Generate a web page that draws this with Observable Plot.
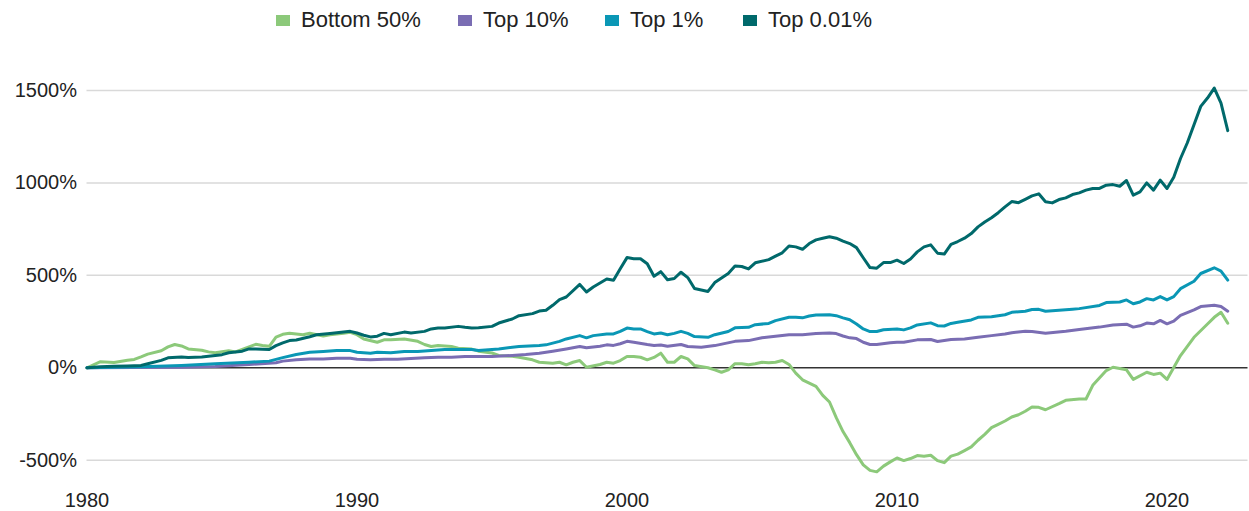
<!DOCTYPE html>
<html>
<head>
<meta charset="utf-8">
<script src="https://cdn.jsdelivr.net/npm/d3@7"></script>
<script src="https://cdn.jsdelivr.net/npm/@observablehq/plot@0.6"></script>
<style>
  html, body { margin: 0; padding: 0; background: #fff; }
  body { font-family: "Liberation Sans", Arial, sans-serif; }
  #wrap { position: relative; width: 1249px; height: 511px; overflow: hidden; }
  #legend { position: absolute; left: 0; top: 0; width: 1249px; height: 42px; }
  .item { position: absolute; top: 7px; display: flex; align-items: center; font-size: 22px; color: #222; white-space: nowrap; }
  .sw { width: 14px; height: 11px; margin-right: 11px; }
  #chart { position: absolute; left: 0; top: 42px; }
</style>
</head>
<body>
<div id="wrap">
  <div id="legend"></div>
  <div id="chart"></div>
</div>
<script>
// ---- Data (cumulative real wealth growth since 1980, %) ----
const seriesNames = ["Bottom 50%", "Top 10%", "Top 1%", "Top 0.01%"];
const seriesColors = ["#8cc97a", "#7a6db3", "#0a97b5", "#00696b"];
const xTicks = [1980, 1990, 2000, 2010, 2020];
const yTicks = [-500, 0, 500, 1000, 1500];

const bottom50 = [
  [1980,0],[1980.5,33],[1981,29],[1981.5,41],[1981.75,45],[1982,59],[1982.25,74],[1982.75,92],
  [1983,113],[1983.25,126],[1983.5,118],[1983.75,102],[1984.25,95],[1984.5,86],[1984.75,81],
  [1985.25,92],[1985.5,86],[1986,113],[1986.25,127],[1986.5,121],[1986.75,116],[1987,166],
  [1987.25,181],[1987.5,187],[1987.75,183],[1988,179],[1988.25,187],[1988.75,172],[1989,179],
  [1989.5,187],[1989.75,192],[1990,179],[1990.25,156],[1990.75,138],[1991,151],[1991.25,151],
  [1991.75,156],[1992.25,143],[1992.5,126],[1992.75,115],[1993,121],[1993.5,115],[1993.75,106],
  [1994.25,101],[1994.5,90],[1995,80],[1995.25,67],[1995.75,62],[1996,57],[1996.5,43],
  [1996.75,30],[1997.25,25],[1997.5,30],[1997.75,16],[1998,30],[1998.25,39],[1998.5,3],
  [1999,18],[1999.25,30],[1999.5,25],[1999.75,39],[2000,61],[2000.25,61],[2000.5,57],
  [2000.75,43],[2001,56],[2001.25,79],[2001.5,30],[2001.75,30],[2002,61],[2002.25,48],
  [2002.5,12],[2003,0],[2003.25,-11],[2003.5,-24],[2003.75,-11],[2004,22],[2004.25,22],
  [2004.5,16],[2004.75,22],[2005,30],[2005.25,27],[2005.5,30],[2005.75,39],[2006,18],
  [2006.25,-29],[2006.5,-65],[2007,-101],[2007.25,-149],[2007.5,-185],[2007.75,-270],
  [2008,-345],[2008.25,-405],[2008.5,-470],[2008.75,-525],[2009,-555],[2009.25,-563],
  [2009.5,-532],[2009.75,-509],[2010,-488],[2010.25,-502],[2010.5,-491],[2010.75,-475],
  [2011,-478],[2011.25,-473],[2011.5,-502],[2011.75,-513],[2012,-478],[2012.25,-467],
  [2012.5,-448],[2012.75,-428],[2013,-392],[2013.25,-360],[2013.5,-324],[2013.75,-306],
  [2014,-288],[2014.25,-266],[2014.5,-254],[2014.75,-235],[2015,-212],[2015.25,-214],
  [2015.5,-227],[2016,-194],[2016.25,-176],[2016.75,-169],[2017,-169],[2017.25,-95],
  [2017.75,-15],[2018,3],[2018.5,-11],[2018.75,-63],[2019.25,-24],[2019.5,-36],[2019.75,-29],
  [2020,-63],[2020.5,66],[2021,165],[2021.5,237],[2021.75,273],[2022,300],[2022.25,241]
];

const top10 = [
  [1980,0],[1983.5,3],[1984.75,7],[1986,18],[1987,27],[1987.25,36],[1987.75,43],[1988.25,48],
  [1988.75,48],[1989.25,52],[1989.75,52],[1990,46],[1990.5,43],[1991,46],[1991.5,46],
  [1992,50],[1992.5,54],[1993,57],[1993.5,57],[1994,61],[1994.25,61],[1995,61],[1995.75,67],
  [1996.25,72],[1996.75,79],[1997.25,90],[1997.75,102],[1998.25,115],[1998.5,108],[1999,117],
  [1999.25,124],[1999.5,121],[1999.75,130],[2000,143],[2000.25,138],[2000.75,126],[2001,121],
  [2001.25,123],[2001.5,116],[2002,126],[2002.25,115],[2002.75,111],[2003.25,120],[2004,143],
  [2004.5,147],[2005,162],[2005.5,170],[2006,179],[2006.5,179],[2007,186],[2007.5,188],
  [2007.75,185],[2008,172],[2008.25,162],[2008.5,158],[2008.75,138],[2009,126],[2009.25,126],
  [2009.75,135],[2010,138],[2010.25,138],[2010.75,151],[2011.25,153],[2011.5,142],[2012,153],
  [2012.5,156],[2013,165],[2013.5,174],[2014,183],[2014.25,190],[2014.75,197],[2015,196],
  [2015.5,187],[2016.25,198],[2016.75,207],[2017.5,220],[2018,231],[2018.5,236],[2018.75,220],
  [2019,227],[2019.25,242],[2019.5,238],[2019.75,256],[2020,238],[2020.25,252],[2020.5,284],
  [2021,313],[2021.25,331],[2021.75,338],[2022,331],[2022.25,306]
];

const top1 = [
  [1980,0],[1982,5],[1983.5,13],[1984.75,22],[1986,30],[1986.75,36],[1987.25,55],[1987.75,72],
  [1988.25,84],[1988.75,88],[1989.25,93],[1989.75,93],[1990,84],[1990.5,79],[1990.75,84],
  [1991.25,81],[1991.75,88],[1992.25,88],[1992.75,93],[1993.25,99],[1993.75,99],[1994.25,99],
  [1994.5,93],[1995.25,102],[1996,115],[1996.75,121],[1997,124],[1997.5,143],[1997.75,156],
  [1998.25,174],[1998.5,162],[1998.75,174],[1999.25,183],[1999.5,183],[1999.75,197],[2000,215],
  [2000.25,210],[2000.5,210],[2000.75,196],[2001,183],[2001.25,188],[2001.5,179],[2001.75,186],
  [2002,197],[2002.25,186],[2002.5,169],[2003,165],[2003.25,179],[2003.75,196],[2004,216],
  [2004.5,219],[2004.75,233],[2005.25,240],[2005.5,255],[2006,273],[2006.25,273],[2006.5,270],
  [2006.75,280],[2007,286],[2007.5,287],[2007.75,282],[2008,270],[2008.25,260],[2008.5,237],
  [2008.75,210],[2009,196],[2009.25,196],[2009.5,206],[2010,210],[2010.25,205],[2010.5,216],
  [2010.75,232],[2011.25,243],[2011.5,228],[2011.75,226],[2012,240],[2012.25,246],[2012.75,259],
  [2013,273],[2013.5,276],[2014,287],[2014.25,300],[2014.75,306],[2015,315],[2015.25,316],
  [2015.5,306],[2016,311],[2016.5,317],[2016.75,320],[2017.5,337],[2017.75,353],[2018.25,356],
  [2018.5,367],[2018.75,346],[2019,356],[2019.25,374],[2019.5,367],[2019.75,385],[2020,367],
  [2020.25,385],[2020.5,428],[2021,468],[2021.25,510],[2021.75,541],[2022,523],[2022.25,474]
];

const top001 = [
  [1980,0],[1980.5,5],[1981,8],[1981.5,10],[1982,13],[1982.25,22],[1982.75,40],[1983,54],
  [1983.5,58],[1983.75,56],[1984.25,58],[1984.5,62],[1985,71],[1985.25,81],[1985.75,90],
  [1986,102],[1986.25,102],[1986.75,99],[1987,120],[1987.25,135],[1987.5,147],[1987.75,150],
  [1988.25,168],[1988.5,179],[1989,186],[1989.25,190],[1989.75,197],[1990,188],[1990.25,176],
  [1990.5,167],[1990.75,171],[1991,186],[1991.25,179],[1991.75,193],[1992,188],[1992.5,197],
  [1992.75,210],[1993,215],[1993.25,215],[1993.75,224],[1994,219],[1994.25,215],[1994.5,217],
  [1995,224],[1995.25,242],[1995.75,264],[1996,282],[1996.5,293],[1996.75,307],[1997,311],
  [1997.25,338],[1997.5,369],[1997.75,383],[1998.25,451],[1998.5,410],[1998.75,437],
  [1999.25,480],[1999.5,473],[1999.75,536],[2000,596],[2000.25,590],[2000.5,590],[2000.75,563],
  [2001,495],[2001.25,520],[2001.5,476],[2001.75,483],[2002,517],[2002.25,488],[2002.5,429],
  [2003,413],[2003.25,461],[2003.75,510],[2004,550],[2004.25,548],[2004.5,535],[2004.75,568],
  [2005.25,585],[2005.5,604],[2005.75,622],[2006,659],[2006.25,654],[2006.5,641],[2006.75,672],
  [2007,692],[2007.25,701],[2007.5,709],[2007.75,701],[2008,685],[2008.25,672],[2008.5,650],
  [2008.75,595],[2009,542],[2009.25,539],[2009.5,569],[2009.75,569],[2010,582],[2010.25,564],
  [2010.5,588],[2010.75,627],[2011,654],[2011.25,665],[2011.5,620],[2011.75,615],[2012,668],
  [2012.25,683],[2012.5,701],[2012.75,726],[2013,762],[2013.25,789],[2013.5,812],[2013.75,839],
  [2014,870],[2014.25,899],[2014.5,893],[2014.75,911],[2015,930],[2015.25,941],[2015.5,898],
  [2015.75,892],[2016,910],[2016.25,919],[2016.5,937],[2016.75,946],[2017,961],[2017.25,970],
  [2017.5,970],[2017.75,988],[2018,991],[2018.25,982],[2018.5,1013],[2018.75,934],[2019,951],
  [2019.25,1000],[2019.5,961],[2019.75,1015],[2020,970],[2020.25,1031],[2020.5,1132],
  [2020.75,1216],[2021,1315],[2021.25,1414],[2021.5,1459],[2021.75,1513],[2022,1432],[2022.25,1283]
];

const seriesData = [bottom50, top10, top1, top001];

// ---- Legend ----
const legendLefts = [276, 458, 605, 743];
const legend = document.getElementById("legend");
seriesNames.forEach((name, i) => {
  const item = document.createElement("div");
  item.className = "item";
  item.style.left = legendLefts[i] + "px";
  const sw = document.createElement("span");
  sw.className = "sw";
  sw.style.background = seriesColors[i];
  const label = document.createElement("span");
  label.textContent = name;
  item.appendChild(sw);
  item.appendChild(label);
  legend.appendChild(item);
});

// ---- Chart ----
const rows = [];
seriesData.forEach((data, i) => data.forEach(([year, value]) => rows.push({series: seriesNames[i], year, value})));

const chart = Plot.plot({
  width: 1249,
  height: 469,
  marginLeft: 86.5,
  marginRight: 1.5,
  marginTop: 29.5,
  marginBottom: 32.8,
  style: {fontFamily: "'Liberation Sans', Arial, sans-serif", fontSize: "20px", color: "#222", background: "#fff"},
  x: {domain: [1980, 2023], label: null},
  y: {domain: [-600, 1600], label: null},
  color: {domain: seriesNames, range: seriesColors},
  marks: [
    Plot.gridY(yTicks.filter(d => d !== 0), {stroke: "#d9d9d9", strokeOpacity: 1, strokeWidth: 1.5}),
    Plot.ruleY([0], {stroke: "#333", strokeWidth: 1.5}),
    Plot.axisX(xTicks, {tickSize: 0, tickPadding: 14, label: null, tickFormat: d => String(d), fontSize: 20}),
    Plot.axisY(yTicks, {tickSize: 0, tickPadding: 10, label: null, tickFormat: d => d + "%", fontSize: 20}),
    Plot.line(rows, {x: "year", y: "value", z: "series", stroke: "series", strokeWidth: 3})
  ]
});
document.getElementById("chart").appendChild(chart);
</script>
</body>
</html>
